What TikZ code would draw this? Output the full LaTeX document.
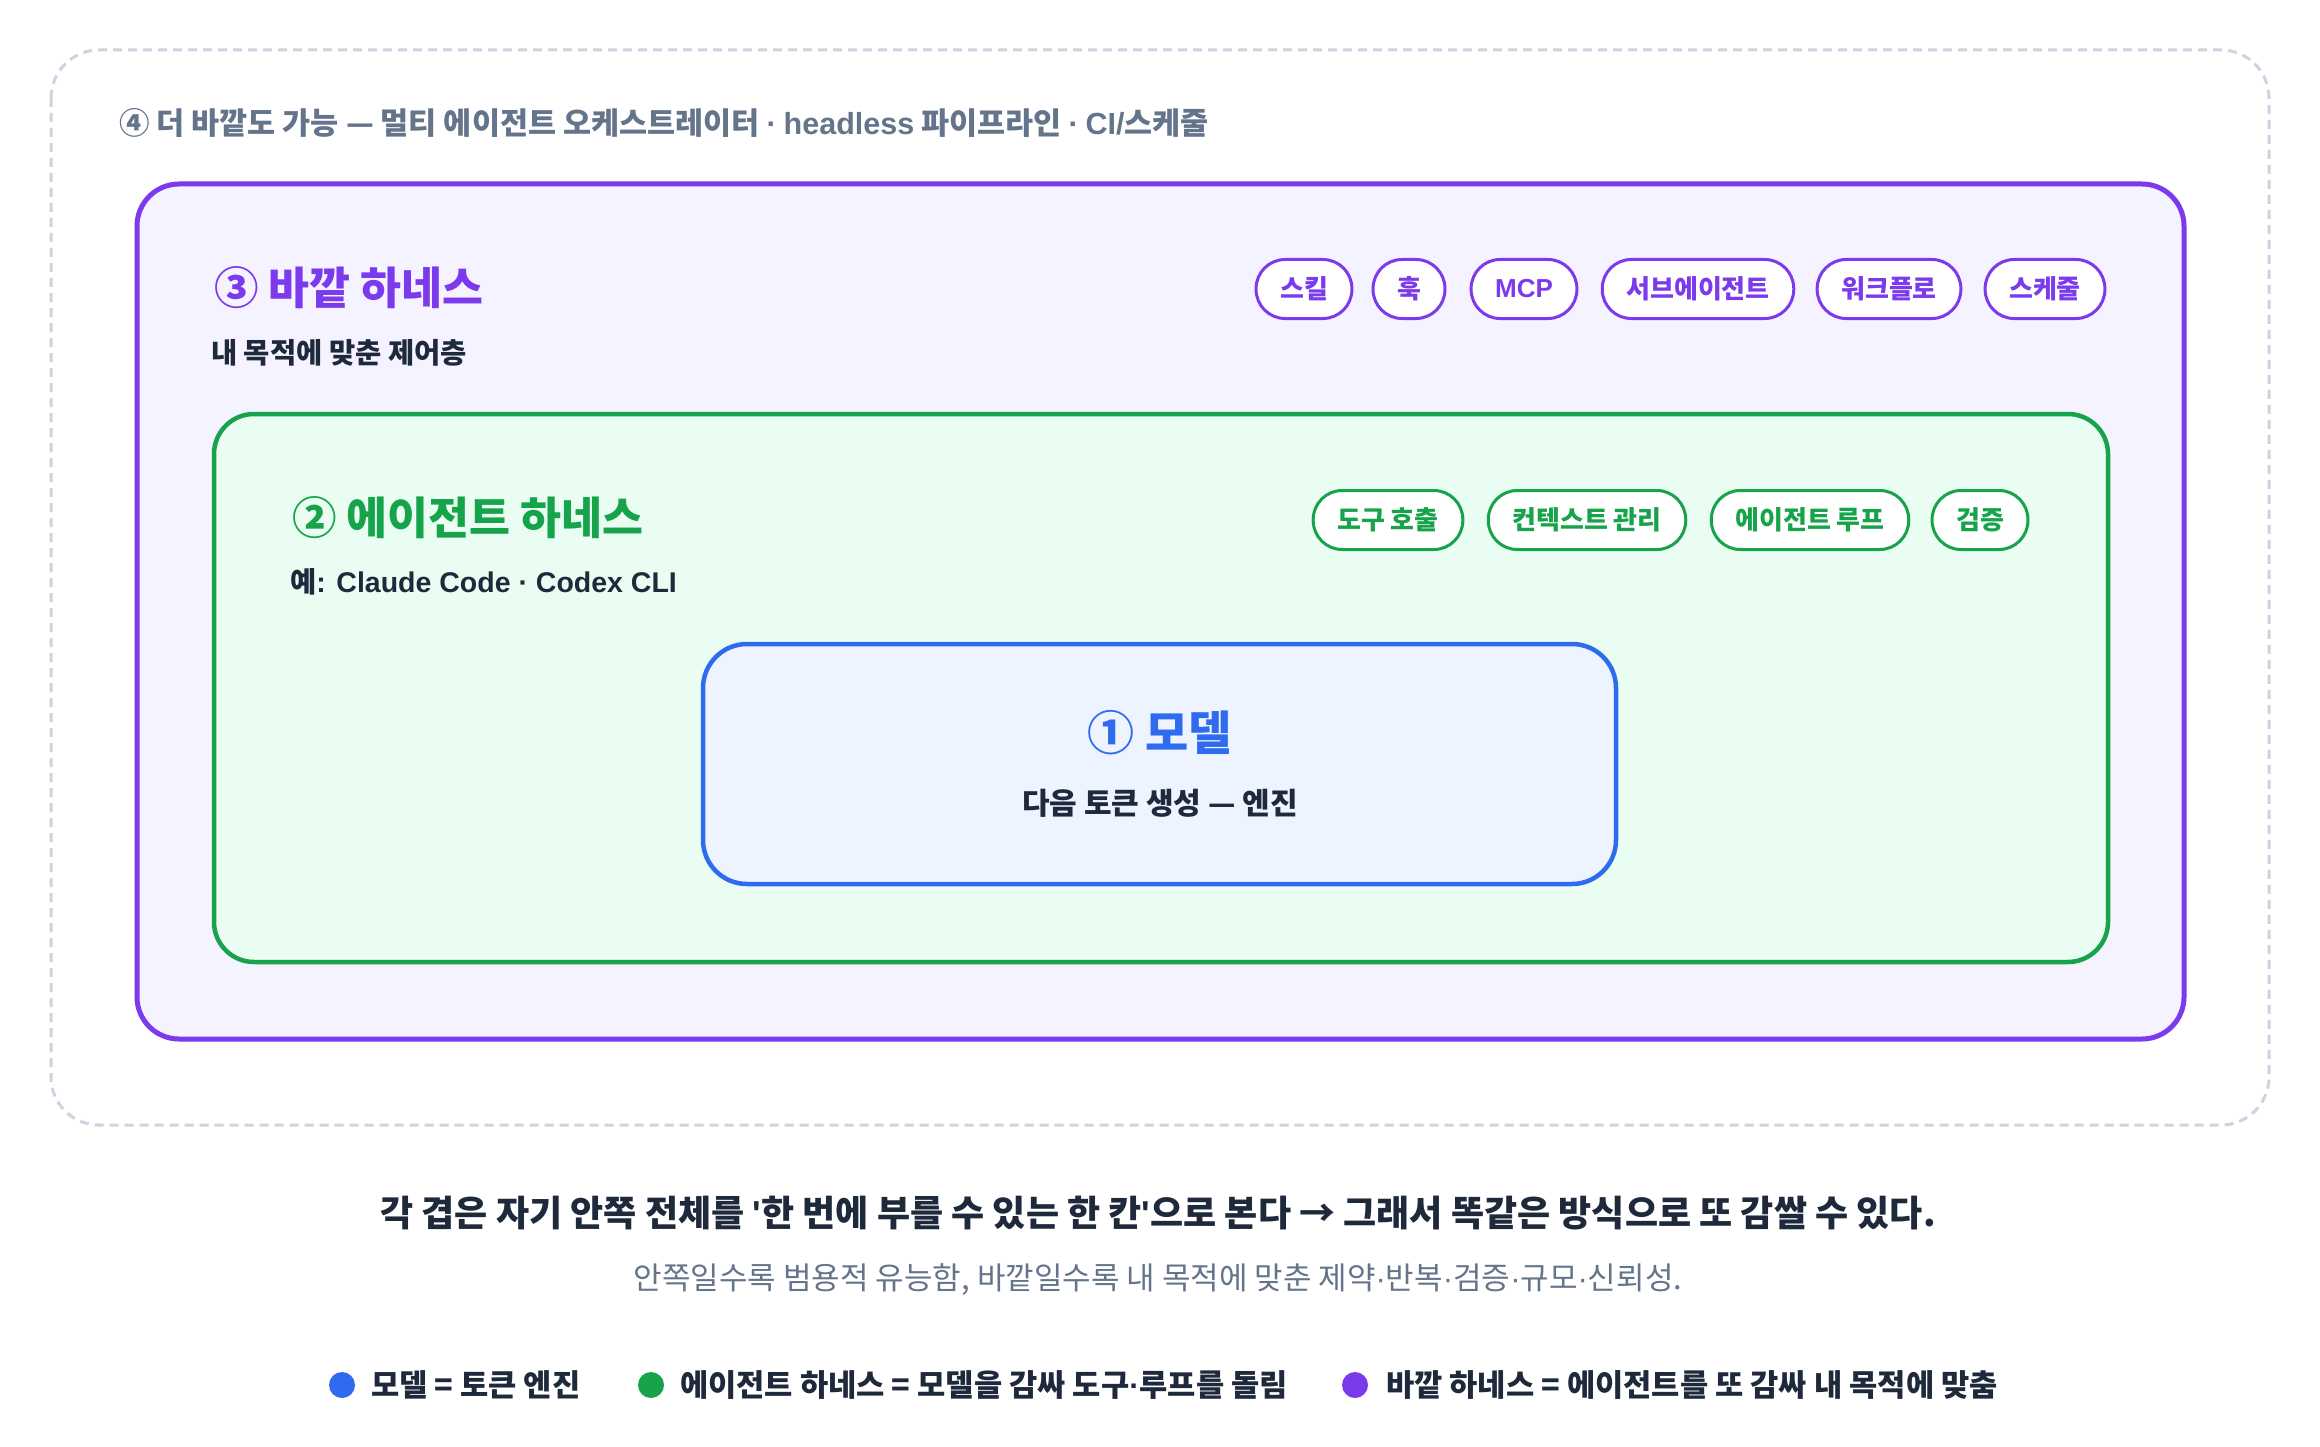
\documentclass[tikz,border=0pt]{standalone}
\usepackage{fontspec}
\setmainfont{Noto Sans CJK KR}
\newfontfamily\latinfont{Liberation Sans}
\definecolor{outerLine}{HTML}{CBD5E1}
\definecolor{harnessPurple}{HTML}{7C3AED}
\definecolor{harnessPurpleBg}{HTML}{F5F3FF}
\definecolor{agentGreen}{HTML}{16A34A}
\definecolor{agentGreenBg}{HTML}{EAFDF2}
\definecolor{modelBlue}{HTML}{2F6BEF}
\definecolor{modelBlueBg}{HTML}{EEF4FF}
\definecolor{inkDark}{HTML}{1E293B}
\definecolor{inkGray}{HTML}{64748B}
\newcommand{\fsz}[1]{\fontsize{#1}{#1}\selectfont}
\newcommand{\ldot}{{\latinfont ·}}
\newcommand{\lquote}{{\latinfont\textquotesingle}}
\begin{document}
\begin{tikzpicture}[x=1pt,y=-1pt,
   purpletag/.style={draw=harnessPurple, line width=3pt, fill=white, rounded corners=29pt,
      minimum height=59pt, inner xsep=24pt, text=harnessPurple, font=\fsz{26}\bfseries},
   greentag/.style={purpletag, draw=agentGreen, text=agentGreen},
   title/.style={inner sep=0pt, font=\fsz{44.5}\bfseries},
   sub/.style={inner sep=0pt, text=inkDark, font=\fsz{28.5}\bfseries},
   legenddot/.style={circle, inner sep=0pt, minimum size=26pt},
   legendtext/.style={inner sep=0pt, anchor=west, text=inkDark, font=\fsz{30.7}\bfseries}]

   \useasboundingbox [fill=white] (0,0) rectangle (2320,1447);

   % layers, outside in
   \draw [outerLine, line width=3pt, dash pattern=on 9pt off 6pt, rounded corners=48pt]
      (51,50) rectangle (2269,1125);
   \draw [harnessPurple, fill=harnessPurpleBg, line width=5pt, rounded corners=42pt]
      (137,184) rectangle (2184,1039);
   \draw [agentGreen, fill=agentGreenBg, line width=4.5pt, rounded corners=40pt]
      (214,414) rectangle (2108,962);
   \draw [modelBlue, fill=modelBlueBg, line width=4.5pt, rounded corners=44pt]
      (703,644) rectangle (1616,884);

   \node (beyond) at (119,123) [inner sep=0pt, anchor=west, text=inkGray, font=\fsz{30.5}\bfseries]
      {④ 더 바깥도 가능 — 멀티 에이전트 오케스트레이터 \ldot{} {\latinfont headless} 파이프라인 \ldot{} {\latinfont CI/}스케줄};

   \node (outerTitle) at (214,288) [title, anchor=west, text=harnessPurple] {③ 바깥 하네스};
   \node (outerSub) at (211,353) [sub, anchor=west] {내 목적에 맞춘 제어층};

   \node (skill) at (1304,289) [purpletag] {스킬};
   \node (hook) at (1409,289) [purpletag] {훅};
   \node (mcp) at (1524,289) [purpletag] {\latinfont MCP};
   \node (subagent) at (1698,289) [purpletag] {서브에이전트};
   \node (workflow) at (1889,289) [purpletag] {워크플로};
   \node (schedule) at (2045,289) [purpletag] {스케줄};

   \node (agentTitle) at (292,518) [title, anchor=west, text=agentGreen] {② 에이전트 하네스};
   \node (agentSub) at (290,582) [sub, anchor=west]
      {예{\latinfont: Claude Code · Codex CLI}};

   \node (toolcall) at (1388,520) [greentag] {도구 호출};
   \node (context) at (1587,520) [greentag] {컨텍스트 관리};
   \node (loop) at (1810,520) [greentag] {에이전트 루프};
   \node (verify) at (1980,520) [greentag] {검증};

   \node (modelTitle) at (1160,733) [title, text=modelBlue, font=\fsz{47}\bfseries] {① 모델};
   \node (modelSub) at (1160,803) [sub, font=\fsz{30}\bfseries] {다음 토큰 생성 — 엔진};

   \node (lesson) at (1158,1213) [inner sep=0pt, text=inkDark, font=\fsz{36}\bfseries]
      {각 겹은 자기 안쪽 전체를 \lquote{}한 번에 부를 수 있는 한 칸\lquote{}으로 본다 → 그래서 똑같은 방식으로 또 감쌀 수 있다.};
   \node (tradeoff) at (1158,1280) [inner sep=0pt, text=inkGray, font=\fsz{31}]
      {안쪽일수록 범용적 유능함, 바깥일수록 내 목적에 맞춘 제약\ldot{}반복\ldot{}검증\ldot{}규모\ldot{}신뢰성.};

   \node (dotModel) at (342,1385) [legenddot, fill=modelBlue] {};
   \node (keyModel) at (371,1385) [legendtext] {모델 = 토큰 엔진};
   \node (dotAgent) at (651,1385) [legenddot, fill=agentGreen] {};
   \node (keyAgent) at (680,1385) [legendtext] {에이전트 하네스 = 모델을 감싸 도구\ldot{}루프를 돌림};
   \node (dotOuter) at (1355,1385) [legenddot, fill=harnessPurple] {};
   \node (keyOuter) at (1386,1385) [legendtext] {바깥 하네스 = 에이전트를 또 감싸 내 목적에 맞춤};

\end{tikzpicture}
\end{document}
